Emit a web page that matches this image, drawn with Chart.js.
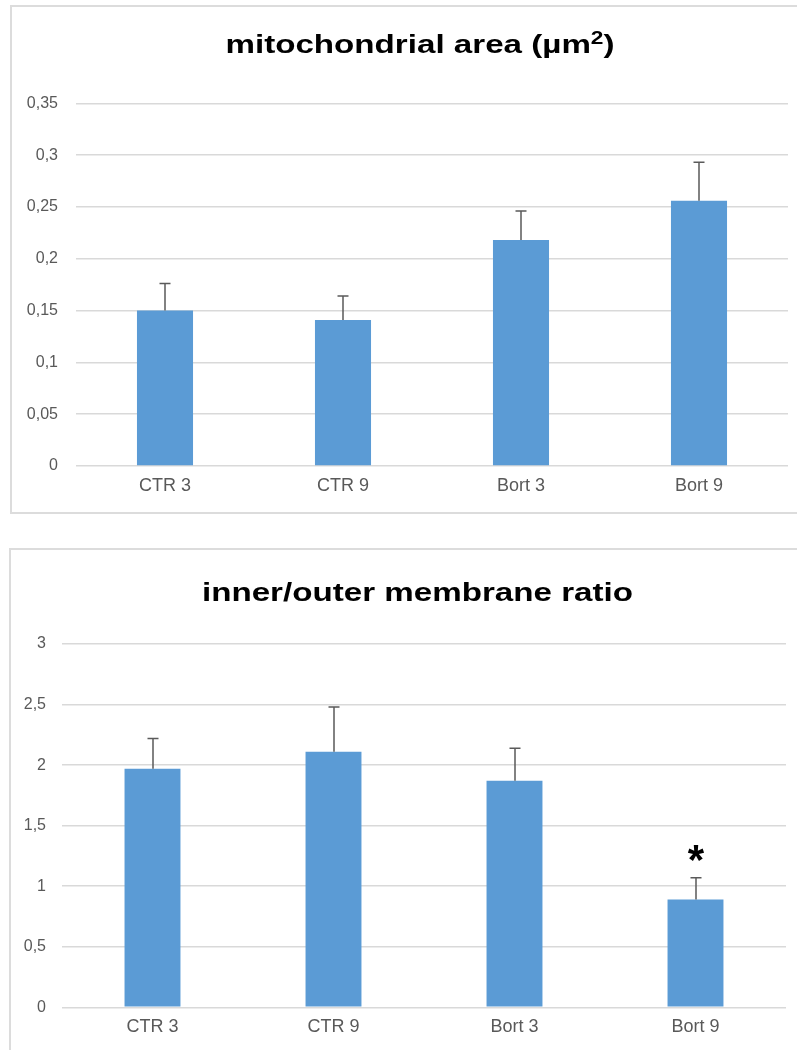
<!DOCTYPE html>
<html>
<head>
<meta charset="utf-8">
<script src="https://cdn.jsdelivr.net/npm/chart.js@4.4.1/dist/chart.umd.min.js"></script>
<style>
  html, body { margin: 0; padding: 0; background: #fff; }
  body { width: 797px; height: 1050px; position: relative; overflow: hidden; }
  .frame { position: absolute; border: 2px solid #dcdcdc; box-sizing: border-box; }
  #frameArea { left: 10px; top: 5px; width: 820px; height: 509px; }
  #frameRatio { left: 9px; top: 548px; width: 820px; height: 600px; }
  canvas { position: absolute; left: 0; }
  #areaChart { top: 0; }
  #ratioChart { top: 530px; }
</style>
</head>
<body>
<div class="frame" id="frameArea"></div>
<div class="frame" id="frameRatio"></div>
<canvas id="areaChart" width="797" height="530"></canvas>
<canvas id="ratioChart" width="797" height="520"></canvas>
<script>
// Groups shared by both panels
const groups = ['CTR 3', 'CTR 9', 'Bort 3', 'Bort 9'];

// Mitochondrial area (µm²): mean and upper error
const areaMean = [0.150, 0.141, 0.218, 0.256];
const areaErr  = [0.026, 0.023, 0.028, 0.037];
const areaTickLabels = ['0', '0,05', '0,1', '0,15', '0,2', '0,25', '0,3', '0,35'];

// Inner/outer membrane ratio: mean and upper error
const ratioMean = [1.97, 2.11, 1.87, 0.89];
const ratioErr  = [0.25, 0.37, 0.27, 0.18];
const ratioTickLabels = ['0', '0,5', '1', '1,5', '2', '2,5', '3'];
const ratioMarks = ['', '', '', '*'];

const FONT = '"Liberation Sans", Arial, Helvetica, sans-serif';
const BAR_COLOR = '#5b9bd5';
const GRID_COLOR = '#d9d9d9';
const TICK_COLOR = '#595959';

// Upper-only error bars with a cap, plus optional significance marks above them
function errorBars(errs, marks) {
  return {
    id: 'errorBars',
    afterDatasetsDraw(chart) {
      const ctx = chart.ctx;
      const ys = chart.scales.y;
      const meta = chart.getDatasetMeta(0);
      const data = chart.data.datasets[0].data;
      ctx.save();
      ctx.strokeStyle = '#5a5a5a';
      ctx.lineWidth = 1.5;
      meta.data.forEach((bar, i) => {
        const x = Math.round(bar.x);
        const y0 = ys.getPixelForValue(data[i]);
        const y1 = ys.getPixelForValue(data[i] + errs[i]);
        ctx.beginPath();
        ctx.moveTo(x, y0);
        ctx.lineTo(x, y1);
        ctx.moveTo(x - 5.5, y1);
        ctx.lineTo(x + 5.5, y1);
        ctx.stroke();
        if (marks && marks[i]) {
          ctx.fillStyle = '#000';
          ctx.font = 'bold 42px ' + FONT;
          ctx.textAlign = 'center';
          ctx.textBaseline = 'alphabetic';
          ctx.fillText(marks[i], x, y1 - 4);
        }
      });
      ctx.restore();
    }
  };
}

// Bold title, slightly widened horizontally; parts allow a superscript
function wideTitle(parts, cx, baseline) {
  return {
    id: 'wideTitle',
    afterDraw(chart) {
      const ctx = chart.ctx;
      ctx.save();
      const widths = parts.map(p => {
        ctx.font = 'bold ' + p.size + 'px ' + FONT;
        return ctx.measureText(p.text).width;
      });
      const total = widths.reduce((a, b) => a + b, 0);
      ctx.translate(cx, baseline);
      ctx.scale(1.3, 1);
      ctx.fillStyle = '#000';
      ctx.textAlign = 'left';
      ctx.textBaseline = 'alphabetic';
      let x = -total / 2;
      parts.forEach((p, i) => {
        ctx.font = 'bold ' + p.size + 'px ' + FONT;
        ctx.fillText(p.text, x, -(p.rise || 0));
        x += widths[i];
      });
      ctx.restore();
    }
  };
}

function barConfig(opts) {
  return {
    type: 'bar',
    data: {
      labels: groups,
      datasets: [{
        data: opts.values,
        backgroundColor: BAR_COLOR,
        borderWidth: 0,
        categoryPercentage: 1,
        barPercentage: opts.barPct
      }]
    },
    options: {
      responsive: false,
      animation: false,
      events: [],
      layout: { padding: opts.padding },
      plugins: { legend: { display: false }, tooltip: { enabled: false }, title: { display: false } },
      scales: {
        x: {
          grid: { display: false },
          border: { display: false },
          ticks: { color: TICK_COLOR, font: { size: 18, family: FONT }, padding: opts.xPad },
          afterFit(s) { s.height = 40; }
        },
        y: {
          min: 0,
          max: opts.max,
          grid: { color: GRID_COLOR, lineWidth: 1.5, drawTicks: false },
          border: { display: false },
          ticks: {
            stepSize: opts.step,
            color: TICK_COLOR,
            font: { size: 16, family: FONT },
            padding: opts.yPad,
            callback: (v, i) => opts.tickLabels[i]
          },
          afterFit(s) { s.width = opts.yWidth; }
        }
      }
    },
    plugins: [errorBars(opts.errs, opts.marks), opts.title]
  };
}

new Chart(document.getElementById('areaChart'), barConfig({
  values: areaMean,
  errs: areaErr,
  marks: null,
  max: 0.35,
  step: 0.05,
  tickLabels: areaTickLabels,
  barPct: 0.315,
  yWidth: 76,
  yPad: 18,
  xPad: 1,
  padding: { top: 103.3, right: 9, bottom: 24, left: 0 },
  title: wideTitle([
    { text: 'mitochondrial area (µm', size: 25.5 },
    { text: '2', size: 17.5, rise: 9 },
    { text: ')', size: 25.5 }
  ], 420, 53)
}));

new Chart(document.getElementById('ratioChart'), barConfig({
  values: ratioMean,
  errs: ratioErr,
  marks: ratioMarks,
  max: 3,
  step: 0.5,
  tickLabels: ratioTickLabels,
  barPct: 0.309,
  yWidth: 62,
  yPad: 16,
  xPad: 1,
  padding: { top: 114, right: 11, bottom: 2.7, left: 0 },
  title: wideTitle([
    { text: 'inner/outer membrane ratio', size: 25.5 }
  ], 417.5, 70.7)
}));
</script>
</body>
</html>
